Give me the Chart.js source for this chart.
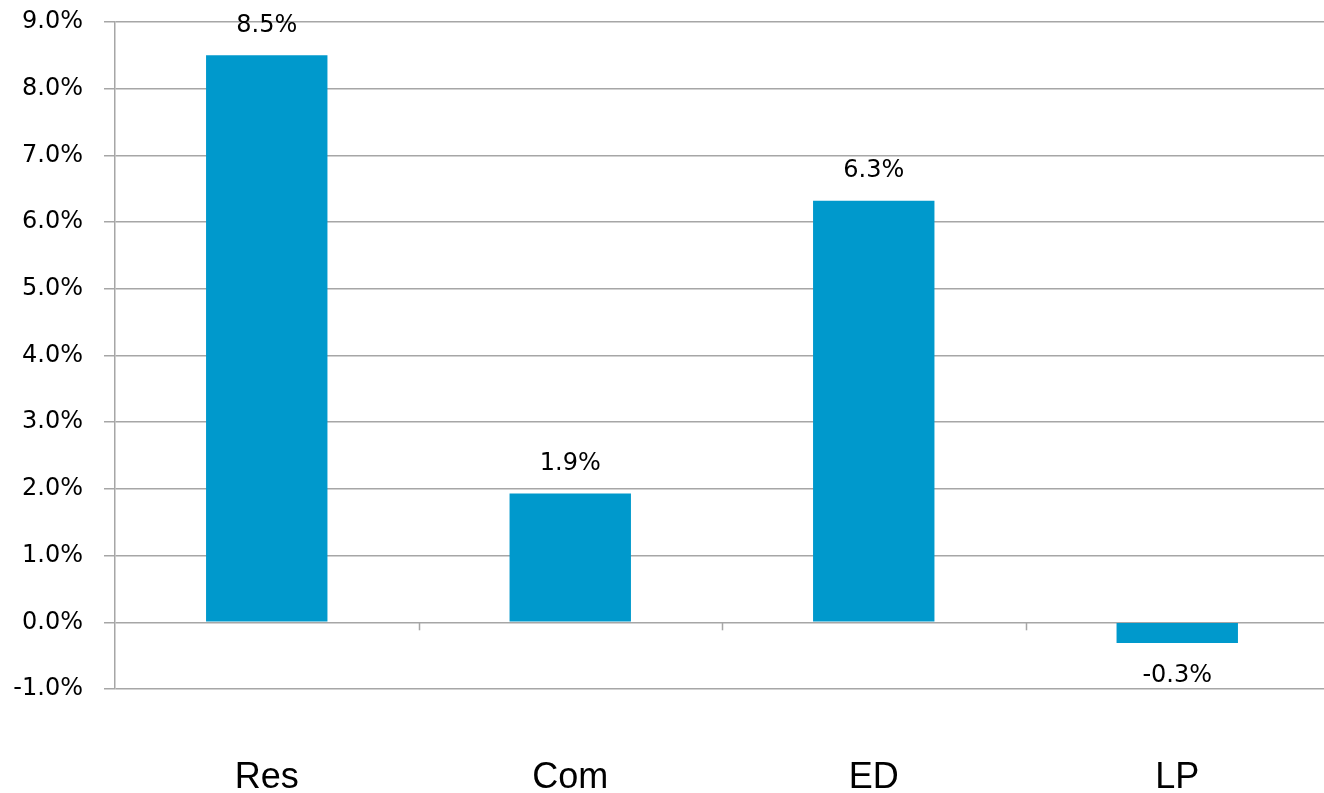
<!DOCTYPE html>
<html>
<head>
<meta charset="utf-8">
<script src="https://cdn.jsdelivr.net/npm/chart.js@4.4.1/dist/chart.umd.min.js"></script>
<style>
  html, body { margin: 0; padding: 0; background: #ffffff; overflow: hidden; }
  #wrap { position: absolute; left: 0; top: 0; width: 1329px; height: 793px; }
</style>
</head>
<body>
<div id="wrap"><canvas id="c"></canvas></div>
<script>
const categories = ["Res", "Com", "ED", "LP"];
const values = [8.5, 1.93, 6.32, -0.31];
const yMin = -1;
const yMax = 9;
const yStep = 1;

const barColor = "#0099CC";
const gridColor = "#a6a6a6";

const labelsPlugin = {
  id: "valueLabels",
  afterDatasetsDraw(chart) {
    const ctx = chart.ctx;
    const meta = chart.getDatasetMeta(0);
    ctx.save();
    ctx.font = "24px 'DejaVu Sans'";
    ctx.fillStyle = "#000";
    ctx.textAlign = "center";
    ctx.textBaseline = "middle";
    meta.data.forEach((bar, i) => {
      const v = values[i];
      const txt = v.toFixed(1) + "%";
      const y = v >= 0 ? bar.y - 30 : bar.y + 33;
      ctx.fillText(txt, bar.x, y);
    });
    ctx.restore();
  }
};

const zeroAxisPlugin = {
  id: "zeroAxis",
  beforeDatasetsDraw(chart) {
    const ctx = chart.ctx;
    const xs = chart.scales.x;
    const ys = chart.scales.y;
    const y0 = ys.getPixelForValue(0);
    ctx.save();
    ctx.strokeStyle = gridColor;
    ctx.lineWidth = 1.5;
    for (let i = 0; i < categories.length - 1; i++) {
      const xb = Math.round((xs.getPixelForValue(i) + xs.getPixelForValue(i + 1)) / 2) + 0.5;
      ctx.beginPath();
      ctx.moveTo(xb, y0);
      ctx.lineTo(xb, y0 + 8);
      ctx.stroke();
    }
    ctx.restore();
  }
};

new Chart(document.getElementById("c"), {
  type: "bar",
  data: {
    labels: categories,
    datasets: [{
      data: values,
      backgroundColor: barColor,
      borderWidth: 0,
      barPercentage: 0.4,
      categoryPercentage: 1.0
    }]
  },
  options: {
    responsive: true,
    maintainAspectRatio: false,
    animation: false,
    events: [],
    layout: { padding: { top: 22, right: 0, left: 0, bottom: 0 } },
    plugins: {
      legend: { display: false },
      tooltip: { enabled: false }
    },
    scales: {
      x: {
        grid: { display: false },
        border: { display: false },
        ticks: {
          color: "#000",
          font: { family: "'Liberation Sans', Arial, sans-serif", size: 36 },
          padding: 59,
          maxRotation: 0
        },
        afterFit(scale) { scale.height = 104; scale.paddingLeft = 0; scale.paddingRight = 0; }
      },
      y: {
        min: yMin,
        max: yMax,
        grid: { color: gridColor, lineWidth: 1.5, tickLength: 11 },
        border: { color: gridColor, width: 1.5 },
        ticks: {
          stepSize: yStep,
          color: "#000",
          padding: 21,
          font: { family: "'DejaVu Sans'", size: 24 },
          callback: v => Number(v).toFixed(1) + "%"
        },
        afterFit(scale) { scale.width = 115; scale.paddingTop = 0; scale.paddingBottom = 0; }
      }
    }
  },
  plugins: [zeroAxisPlugin, labelsPlugin]
});
</script>
</body>
</html>
